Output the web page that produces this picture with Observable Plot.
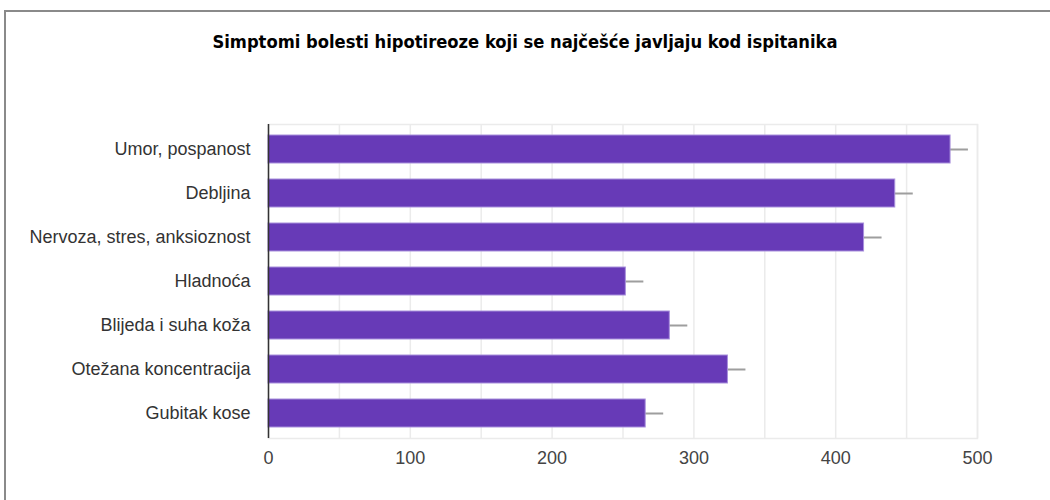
<!DOCTYPE html>
<html>
<head>
<meta charset="utf-8">
<script src="https://cdn.jsdelivr.net/npm/d3@7"></script>
<script src="https://cdn.jsdelivr.net/npm/@observablehq/plot@0.6"></script>
<style>
  html, body { margin: 0; padding: 0; background: #fff; }
  #wrap { position: relative; width: 1050px; height: 500px; overflow: hidden; }
  #frame { position: absolute; left: 4px; top: 10px; width: 1100px; height: 600px;
           border-top: 2px solid #8a8a8a; border-left: 2px solid #8a8a8a; box-sizing: border-box; }
  #title { position: relative; height: 80px; line-height: 84px; text-align: center;
           font-family: "Liberation Sans Narrow", "DejaVu Sans Condensed", sans-serif;
           font-stretch: condensed;
           font-weight: bold; font-size: 18.2px; color: #000; }
  #chart { position: relative; }
</style>
</head>
<body>
<div id="wrap">
  <div id="frame"></div>
  <div id="title">Simptomi bolesti hipotireoze koji se najčešće javljaju kod ispitanika</div>
  <div id="chart"></div>
</div>
<script>
const categories = [
  "Umor, pospanost",
  "Debljina",
  "Nervoza, stres, anksioznost",
  "Hladnoća",
  "Blijeda i suha koža",
  "Otežana koncentracija",
  "Gubitak kose"
];
const values = [481, 442, 420, 252, 283, 324, 266];
const errors = [12.6, 12.7, 12.7, 12.7, 12.7, 12.7, 12.7];
const xTicks = [0, 100, 200, 300, 400, 500];
const xGrid = [0, 50, 100, 150, 200, 250, 300, 350, 400, 450, 500];

const data = categories.map((c, i) => ({ cat: c, value: values[i], err: errors[i] }));

const chart = Plot.plot({
  width: 1050,
  height: 420,
  marginTop: 44,
  marginBottom: 62,
  marginLeft: 268,
  marginRight: 73,
  style: { fontFamily: "'Liberation Sans', Arial, sans-serif", fontSize: "18px", background: "transparent" },
  x: { domain: [0, 500] },
  y: { domain: categories, paddingInner: 0.375, paddingOuter: 0.2 },
  marks: [
    Plot.ruleX(xGrid, { stroke: "#ebebeb", strokeWidth: 1.5 }),
    Plot.frame({ stroke: "#ebebeb", strokeWidth: 1.5 }),
    Plot.ruleY(data, { y: "cat", x1: d => d.value - d.err, x2: d => d.value + d.err, stroke: "#9e9e9e", strokeWidth: 2 }),
    Plot.barX(data, { y: "cat", x: "value", fill: "#673ab7", stroke: "#a88fdc", strokeWidth: 1, inset: 0 }),
    Plot.ruleX([0], { stroke: "#333", strokeWidth: 1.5 }),
    Plot.axisY({ tickSize: 0, tickPadding: 18, fontSize: 18, color: "#333", label: null }),
    Plot.axisX(xTicks, { tickSize: 0, tickPadding: 13, fontSize: 18, color: "#444", label: null })
  ]
});
document.getElementById("chart").appendChild(chart);
</script>
</body>
</html>
